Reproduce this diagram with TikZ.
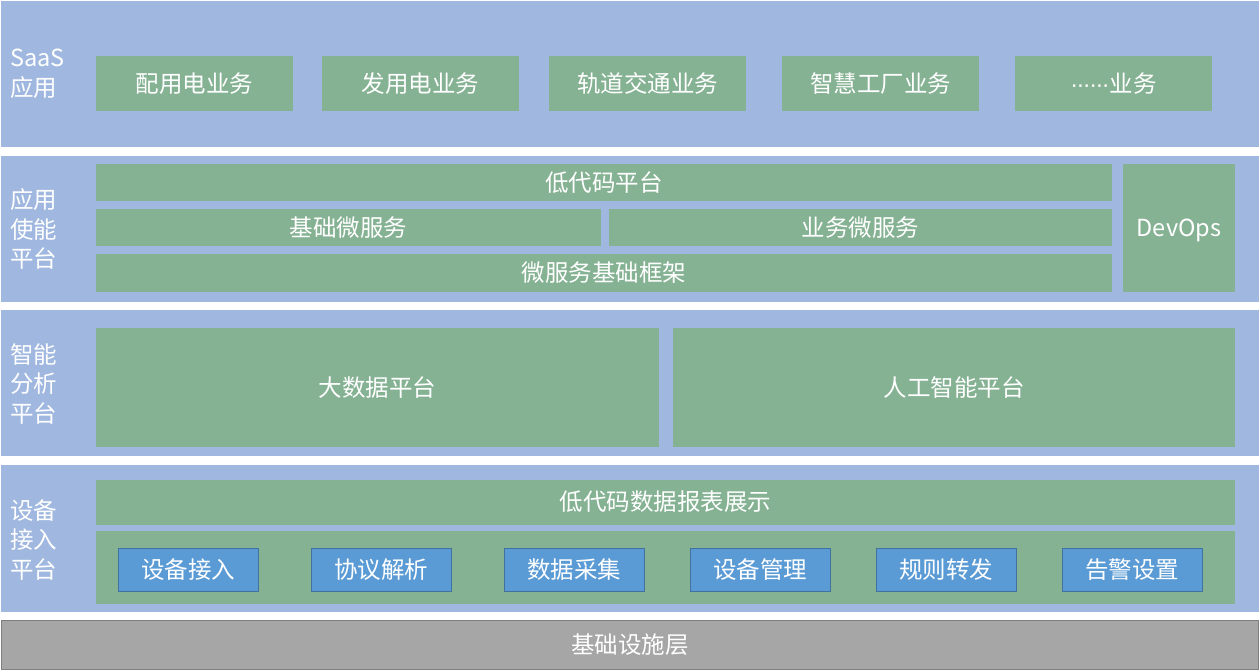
\documentclass[tikz,border=0pt]{standalone}
\usepackage{fontspec}
\setmainfont{Noto Sans CJK SC}
\newfontfamily\latinfont{Liberation Sans}
\usepackage{tikz}
\newcommand\BW{1258}
\newcommand\BH{146}
\newcommand\dotrow{{\latinfont\textperiodcentered\kern-1.5pt\textperiodcentered\kern-1.5pt\textperiodcentered\kern-1.5pt\textperiodcentered\kern-1.5pt\textperiodcentered\kern-1.5pt\textperiodcentered}}
\definecolor{bandblue}{HTML}{A0B8E0}
\definecolor{boxgreen}{HTML}{86B294}
\definecolor{boxblue}{HTML}{5B9BD5}
\definecolor{boxblueline}{HTML}{41719C}
\definecolor{basegray}{HTML}{A6A6A6}
\definecolor{baseline}{HTML}{7F7F7F}

\begin{document}
\begin{tikzpicture}[x=1pt,y=-1pt,inner sep=0pt,
                    font=\fontsize{23.5}{29.5}\selectfont,text=white]

  \tikzstyle{band}=[rectangle,fill=bandblue,minimum width=\BW pt,minimum height=\BH pt]
  \tikzstyle{layer}=[anchor=west,align=left]
  \tikzstyle{gbox}=[rectangle,fill=boxgreen]
  \tikzstyle{bbox}=[rectangle,fill=boxblue,draw=boxblueline,line width=1pt,
                    minimum width=140pt,minimum height=43pt]

  \useasboundingbox (0,0) rectangle (1260,671);

  % layers
  \node[band] (SAAS) at (630,74)    {};
  \node[band] (AEP)  at (630,229)   {};
  \node[band] (IAP)  at (630,383)   {};
  \node[band,minimum height=147pt] (DAP) at (630,538.5) {};
  \node[rectangle,fill=basegray,draw=baseline,line width=1pt,
        minimum width=1257pt,minimum height=49pt] (INF) at (630,645) {基础设施层};

  \node[layer] (SAASL) at (10,74)  {SaaS\\应用};
  \node[layer] (AEPL)  at (10,229) {应用\\使能\\平台};
  \node[layer] (IAPL)  at (10,384) {智能\\分析\\平台};
  \node[layer] (DAPL)  at (10,540) {设备\\接入\\平台};

  % SaaS
  \node[gbox,minimum width=197pt,minimum height=55pt] (PYD) at (194.5,83.5)  {配用电业务};
  \node[gbox,minimum width=197pt,minimum height=55pt] (FYD) at (420.5,83.5)  {发用电业务};
  \node[gbox,minimum width=197pt,minimum height=55pt] (GDJT) at (647.5,83.5) {轨道交通业务};
  \node[gbox,minimum width=197pt,minimum height=55pt] (ZHGC) at (880.5,83.5) {智慧工厂业务};
  \node[gbox,minimum width=197pt,minimum height=55pt] (MORE) at (1113.5,83.5) {\dotrow 业务};

  % application enablement
  \node[gbox,minimum width=1016pt,minimum height=37pt] (LCP)  at (604,182.5)   {低代码平台};
  \node[gbox,minimum width=505pt,minimum height=37pt]  (BMS)  at (348.5,227.5) {基础微服务};
  \node[gbox,minimum width=503pt,minimum height=37pt]  (YMS)  at (860.5,227.5) {业务微服务};
  \node[gbox,minimum width=1016pt,minimum height=38pt] (MSF)  at (604,273)     {微服务基础框架};
  \node[gbox,minimum width=112pt,minimum height=128pt] (DEV)  at (1179,228)    {};
  \node (DEVL) at (1179,230) {DevOps};

  % analytics
  \node[gbox,minimum width=563pt,minimum height=119pt] (BDP) at (377.5,387.5) {大数据平台};
  \node[gbox,minimum width=562pt,minimum height=119pt] (AIP) at (954,387.5)   {人工智能平台};

  % device access
  \node[gbox,minimum width=1139pt,minimum height=45pt] (RPT) at (665.5,502)   {低代码数据报表展示};
  \node[gbox,minimum width=1139pt,minimum height=73pt] (MOD) at (665.5,567.5) {};
  \node[bbox] (SBJR) at (188,569.5)  {设备接入};
  \node[bbox] (XYJX) at (381,569.5)  {协议解析};
  \node[bbox] (SJCJ) at (574,569.5)  {数据采集};
  \node[bbox] (SBGL) at (760,569.5)  {设备管理};
  \node[bbox] (GZZF) at (946,569.5)  {规则转发};
  \node[bbox] (GJSZ) at (1132,569.5) {告警设置};
\end{tikzpicture}
\end{document}
